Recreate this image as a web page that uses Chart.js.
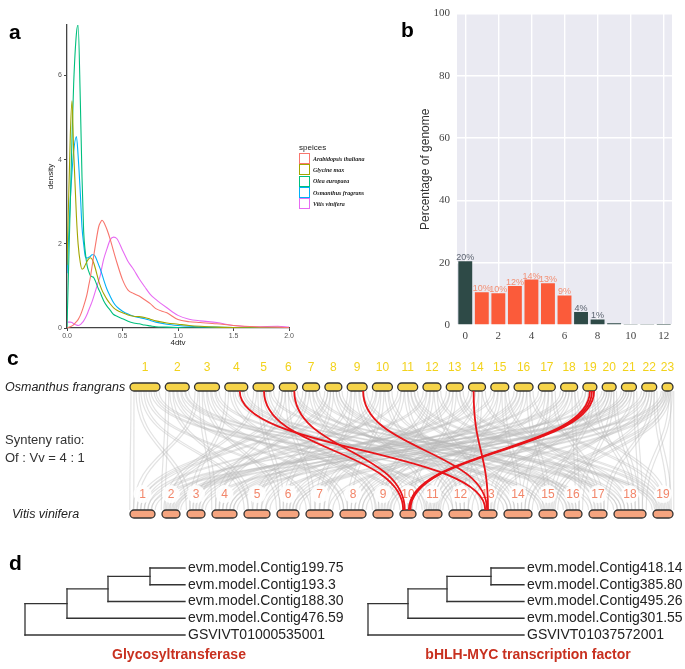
<!DOCTYPE html>
<html>
<head>
<meta charset="utf-8">
<script src="https://cdn.jsdelivr.net/npm/chart.js@4.4.1/dist/chart.umd.min.js"></script>
<style>
body { margin: 0; background: #fff; }
#fig { position: relative; width: 685px; height: 669px; overflow: hidden; font-family: "Liberation Sans", Arial, sans-serif; color: #222; }
#fig canvas, #fig .t { position: absolute; }
.letter { font-weight: bold; font-size: 21px; color: #000; line-height: 1; }
.sp { font-style: italic; font-size: 12.5px; line-height: 1; }
.plain { font-size: 13px; line-height: 1; color: #333; }
#legA .lt { font-size: 8px; height: 10px; line-height: 10px; }
#legA .row { height: 11.3px; display: flex; align-items: center; }
#legA .box { width: 9px; height: 9px; border: 1px solid; background: #fff; margin-right: 3px; }
#legA .lab { font-family: "Liberation Serif", serif; font-style: italic; font-weight: bold; font-size: 6px; }
</style>
</head>
<body>
<div id="fig">
  <canvas id="pa" width="340" height="350" style="left:0;top:0"></canvas>
  <canvas id="pb" width="345" height="345" style="left:340px;top:0"></canvas>
  <canvas id="pc" width="685" height="190" style="left:0;top:345px"></canvas>
  <canvas id="pd1" width="360" height="124" style="left:0;top:545px"></canvas>
  <canvas id="pd2" width="345" height="124" style="left:340px;top:545px"></canvas>

  <div class="t letter" style="left:9px;top:21px">a</div>
  <div class="t letter" style="left:401px;top:19px">b</div>
  <div class="t letter" style="left:7px;top:347px">c</div>
  <div class="t letter" style="left:9px;top:552px">d</div>
  <div id="legA" class="t" style="left:299px;top:143px"></div>

  <div class="t sp" style="left:5px;top:381px">Osmanthus frangrans</div>
  <div class="t plain" style="left:5px;top:433px">Synteny ratio:</div>
  <div class="t plain" style="left:5px;top:451px">Of : Vv = 4 : 1</div>
  <div class="t sp" style="left:12px;top:508px">Vitis vinifera</div>
</div>
<script>
Chart.defaults.font.family = '"Liberation Sans", Arial, sans-serif';
Chart.defaults.animation = false;

// ---------- a: 4dtv density ----------
const species = ['Arabidopsis thaliana', 'Glycine max', 'Olea europaea', 'Osmanthus fragrans', 'Vitis vinifera'];
const speciesColors = ['#F8766D', '#A3A500', '#00BF7D', '#00B0F6', '#E76BF3'];
const dtv = [0, 0.03, 0.045, 0.06, 0.085, 0.1, 0.12, 0.135, 0.15, 0.165, 0.18, 0.195, 0.21, 0.225, 0.24, 0.255,
  0.285, 0.3, 0.315, 0.33, 0.36, 0.39, 0.42, 0.45, 0.5, 0.55, 0.6, 0.65, 0.7, 0.75, 0.8, 0.9, 1.0, 1.1, 1.2,
  1.35, 1.5, 1.7, 1.9, 2.0];
const densArabidopsis = [0, 0.03, 0.05, 0.08, 0.15, 0.2, 0.3, 0.4, 0.52, 0.65, 0.8, 1.0, 1.2, 1.45, 1.7, 1.95,
  2.4, 2.5, 2.56, 2.52, 2.34, 2.1, 1.82, 1.55, 1.15, 0.9, 0.82, 0.76, 0.67, 0.58, 0.46, 0.36, 0.2, 0.15, 0.13,
  0.1, 0.06, 0.03, 0.02, 0.01];
const densGlycine = [1.5, 4.6, 5.4, 4.2, 2.65, 2.0, 1.55, 1.4, 1.42, 1.5, 1.58, 1.64, 1.67, 1.64, 1.55, 1.42,
  1.12, 1.0, 0.9, 0.82, 0.68, 0.57, 0.48, 0.42, 0.36, 0.31, 0.28, 0.27, 0.25, 0.21, 0.17, 0.12, 0.09, 0.06, 0.04,
  0.02, 0.01, 0.005, 0, 0];
const densOlea = [0, 3.0, 4.5, 5.8, 7.0, 7.2, 5.4, 3.6, 2.3, 1.8, 1.5, 1.35, 1.25, 1.22, 1.2, 1.12,
  0.92, 0.84, 0.74, 0.65, 0.52, 0.42, 0.32, 0.28, 0.22, 0.16, 0.12, 0.1, 0.07, 0.05, 0.03, 0.02, 0.01, 0, 0,
  0, 0, 0, 0, 0];
const densOsmanthus = [1.3, 3.05, 3.7, 4.2, 4.55, 4.1, 3.2, 2.4, 2.0, 1.7, 1.66, 1.68, 1.7, 1.74, 1.74, 1.7,
  1.5, 1.4, 1.28, 1.15, 0.92, 0.75, 0.6, 0.5, 0.4, 0.33, 0.28, 0.25, 0.22, 0.18, 0.14, 0.09, 0.06, 0.04, 0.03,
  0.02, 0.01, 0.005, 0, 0];
const densVitis = [0.14, 0.14, 0.13, 0.1, 0.07, 0.06, 0.08, 0.12, 0.17, 0.24, 0.32, 0.42, 0.52, 0.62, 0.74, 0.87,
  1.12, 1.25, 1.45, 1.63, 1.88, 2.1, 2.16, 2.12, 1.85, 1.58, 1.39, 1.17, 0.98, 0.8, 0.68, 0.48, 0.3, 0.21, 0.17,
  0.13, 0.06, 0.03, 0.04, 0.02];
const densTicksY = [0, 2, 4, 6];
const densAll = [densArabidopsis, densGlycine, densOlea, densOsmanthus, densVitis];

new Chart(document.getElementById('pa'), {
  type: 'line',
  data: {
    datasets: species.map((s, i) => ({
      label: s,
      data: dtv.map((x, j) => ({ x: x, y: densAll[i][j] })),
      borderColor: speciesColors[i],
      borderWidth: 1.1,
      pointRadius: 0,
      fill: false,
      cubicInterpolationMode: 'monotone'
    }))
  },
  options: {
    responsive: false,
    layout: { padding: { left: 44, top: 25, right: 51, bottom: 2 } },
    plugins: { legend: { display: false }, tooltip: { enabled: false } },
    scales: {
      x: {
        type: 'linear', min: 0, max: 2,
        ticks: { stepSize: 0.5, callback: v => v.toFixed(1), font: { size: 7 }, color: '#555', padding: 1, maxRotation: 0 },
        grid: { drawOnChartArea: false, tickLength: 3, color: '#444' },
        border: { color: '#444', width: 1.3 },
        title: { display: true, text: '4dtv', font: { size: 8 }, color: '#222', padding: 0 },
        afterFit: s => { s.height = 20; }
      },
      y: {
        type: 'linear', min: 0, max: 7.2,
        afterBuildTicks: s => { s.ticks = densTicksY.map(v => ({ value: v })); },
        ticks: { font: { size: 7 }, color: '#555', padding: 2 },
        grid: { drawOnChartArea: false, tickLength: 3, color: '#444' },
        border: { color: '#444', width: 1.3 },
        title: { display: true, text: 'density', font: { size: 8 }, color: '#222', padding: 2 },
        afterFit: s => { s.width = 23; }
      }
    }
  }
});

// legend for a
const legA = document.getElementById('legA');
legA.innerHTML = '<div class="lt">speices</div>' + species.map((s, i) =>
  '<div class="row"><span class="box" style="border-color:' + speciesColors[i] + '"></span><span class="lab">' + s + '</span></div>'
).join('');

// ---------- b: percentage of genome ----------
const copyNumber = [0, 1, 2, 3, 4, 5, 6, 7, 8, 9, 10, 11, 12];
const genomePct = [20.5, 10.5, 10.2, 12.5, 14.6, 13.4, 9.5, 4.2, 1.8, 0.6, 0.3, 0.15, 0.08];
const pctLabels = ['20%', '10%', '10%', '12%', '14%', '13%', '9%', '4%', '1%', '', '', '', ''];
const highlighted = [0, 1, 1, 1, 1, 1, 1, 0, 0, 0, 0, 0, 0];
const pctTicksX = [0, 2, 4, 6, 8, 10, 12];
const pctTicksY = [0, 20, 40, 60, 80, 100];

const darkBar = '#2e4a47', hotBar = '#fb5b3a';
const panelBg = {
  id: 'panelBg',
  beforeDraw(chart) {
    const a = chart.chartArea, ctx = chart.ctx;
    ctx.save();
    ctx.fillStyle = '#eaeaf2';
    ctx.fillRect(a.left, a.top, a.right - a.left, a.bottom - a.top);
    ctx.restore();
  }
};
const barText = {
  id: 'barText',
  afterDatasetsDraw(chart) {
    const ctx = chart.ctx;
    ctx.save();
    ctx.font = '9px "Liberation Sans", Arial, sans-serif';
    ctx.textAlign = 'center';
    ctx.textBaseline = 'bottom';
    chart.getDatasetMeta(0).data.forEach((bar, i) => {
      ctx.fillStyle = highlighted[i] ? '#f28f74' : '#5c6470';
      ctx.fillText(pctLabels[i], bar.x, bar.y + 1);
    });
    ctx.restore();
  }
};

new Chart(document.getElementById('pb'), {
  type: 'bar',
  data: {
    datasets: [{
      data: copyNumber.map((c, i) => ({ x: c, y: genomePct[i] })),
      backgroundColor: highlighted.map(h => h ? hotBar : darkBar),
      barPercentage: 0.84,
      categoryPercentage: 1
    }]
  },
  options: {
    responsive: false,
    layout: { padding: { left: 74, top: 11, right: 13, bottom: 0 } },
    plugins: { legend: { display: false }, tooltip: { enabled: false } },
    scales: {
      x: {
        type: 'linear', min: -0.5, max: 12.5, offset: false,
        afterBuildTicks: s => { s.ticks = pctTicksX.map(v => ({ value: v })); },
        ticks: { font: { family: '"Liberation Serif", serif', size: 11 }, color: '#444', padding: 5, maxRotation: 0 },
        grid: { color: '#ffffff', lineWidth: 1.4, drawTicks: false, offset: false },
        border: { display: false },
        afterFit: s => { s.height = 20; }
      },
      y: {
        type: 'linear', min: 0, max: 100,
        afterBuildTicks: s => { s.ticks = pctTicksY.map(v => ({ value: v })); },
        ticks: { font: { family: '"Liberation Serif", serif', size: 11 }, color: '#444', padding: 7 },
        grid: { color: '#ffffff', lineWidth: 1.4, drawTicks: false },
        border: { display: false },
        title: { display: true, text: 'Percentage of genome', font: { size: 12 }, color: '#333', padding: 4 },
        afterFit: s => { s.width = 43; }
      }
    }
  },
  plugins: [panelBg, barText]
});

// ---------- c: synteny Osmanthus vs Vitis ----------
const osmChrLen = [30, 24, 25, 23, 21, 18, 17, 17, 20, 20, 20, 18, 17, 17, 18, 19, 17, 17, 14, 14, 15, 15, 11];
const vitChrLen = [25, 18, 18, 25, 26, 22, 27, 26, 20, 16, 19, 23, 18, 28, 18, 18, 18, 32, 20];
// [Osmanthus chr, Vitis chr]
const grayLinks = [
  [1, 1], [3, 1], [8, 1], [15, 1], [20, 1],
  [2, 2], [6, 2], [12, 2], [17, 2],
  [1, 3], [4, 3], [10, 3], [21, 3],
  [3, 4], [7, 4], [13, 4], [18, 4], [22, 4],
  [2, 5], [9, 5], [14, 5], [19, 5],
  [5, 6], [8, 6], [16, 6], [23, 6],
  [1, 7], [6, 7], [11, 7], [20, 7],
  [3, 8], [10, 8], [15, 8], [21, 8],
  [4, 9], [12, 9], [17, 9], [22, 9],
  [2, 10], [7, 10], [13, 10],
  [5, 11], [9, 11], [16, 11], [18, 11], [23, 11],
  [8, 12], [11, 12], [14, 12], [20, 12],
  [6, 13], [12, 13], [19, 13], [22, 13],
  [1, 14], [7, 14], [10, 14], [15, 14], [21, 14],
  [3, 15], [11, 15], [16, 15], [23, 15],
  [4, 16], [9, 16], [18, 16], [20, 16],
  [2, 17], [13, 17], [17, 17], [22, 17],
  [5, 18], [8, 18], [14, 18], [19, 18], [21, 18], [23, 18],
  [6, 19], [11, 19], [16, 19], [18, 19], [23, 19],
  [1, 5], [2, 8], [3, 11], [4, 14], [5, 2], [6, 16], [7, 19], [8, 3], [9, 7], [10, 12],
  [11, 1], [12, 18], [13, 6], [14, 9], [15, 17], [16, 4], [17, 13], [18, 8], [19, 15],
  [20, 11], [21, 2], [22, 19], [23, 14],
  [1, 12], [2, 15], [3, 6], [4, 18], [5, 9], [6, 4], [7, 1], [8, 16], [9, 13], [10, 5],
  [11, 17], [12, 7], [13, 19], [14, 3], [15, 11], [16, 8], [17, 14], [18, 2], [19, 10],
  [20, 18], [21, 6], [22, 15], [23, 9]
];
// [Osmanthus chr, position on chr, Vitis chr, position on chr]
const redLinks = [
  [4, 0.65, 13, 0.35], [5, 0.52, 10, 0.2], [6, 0.83, 10, 0.3], [9, 0.8, 13, 0.45],
  [14, 0.3, 13, 0.5], [19, 0.5, 10, 0.55], [19, 0.65, 10, 0.6], [19, 0.8, 10, 0.65]
];

const OSM_GAP = 5.3, VIT_GAP = 7;
const starts = (lens, gap) => lens.map((l, i) => lens.slice(0, i).reduce((a, b) => a + b, 0) + i * gap);
const osmStart = starts(osmChrLen, OSM_GAP), vitStart = starts(vitChrLen, VIT_GAP);
const osmTotal = osmStart[osmStart.length - 1] + osmChrLen[osmChrLen.length - 1];
const vitTotal = vitStart[vitStart.length - 1] + vitChrLen[vitChrLen.length - 1];
// track placement inside the 685px panel: from 130px to 673px
const trackRange = (total) => { const u = total / 543; return { min: -130 * u, max: total + 12 * u }; };

const synteny = {
  id: 'synteny',
  afterDraw(chart) {
    const ctx = chart.ctx, xo = chart.scales.xo, xv = chart.scales.xv, y = chart.scales.y;
    const yTop = y.getPixelForValue(1), yBot = y.getPixelForValue(0);
    const yTopLab = y.getPixelForValue(1.155), yBotLab = y.getPixelForValue(0.157);
    const h = 8;
    const ox = (c, f) => xo.getPixelForValue(osmStart[c - 1] + f * osmChrLen[c - 1]);
    const vx = (c, f) => xv.getPixelForValue(vitStart[c - 1] + f * vitChrLen[c - 1]);
    const curve = (x1, x2) => {
      const ym = (yTop + yBot) / 2;
      ctx.beginPath();
      ctx.moveTo(x1, yTop + h / 2);
      ctx.bezierCurveTo(x1, ym, x2, ym, x2, yBot - h / 2);
      ctx.stroke();
    };
    const pill = (x1, x2, yc, fill) => {
      const r = h / 2;
      ctx.beginPath();
      ctx.moveTo(x1 + r, yc - r);
      ctx.lineTo(x2 - r, yc - r);
      ctx.arc(x2 - r, yc, r, -Math.PI / 2, Math.PI / 2);
      ctx.lineTo(x1 + r, yc + r);
      ctx.arc(x1 + r, yc, r, Math.PI / 2, Math.PI * 1.5);
      ctx.closePath();
      ctx.fillStyle = fill;
      ctx.fill();
      ctx.lineWidth = 1.3;
      ctx.strokeStyle = '#333';
      ctx.stroke();
    };

    // gray links spread along each chromosome
    const oSlots = osmChrLen.map(() => []), vSlots = vitChrLen.map(() => []);
    grayLinks.forEach((l, i) => { oSlots[l[0] - 1].push(i); vSlots[l[1] - 1].push(i); });
    oSlots.forEach(s => s.sort((a, b) => grayLinks[a][1] - grayLinks[b][1]));
    vSlots.forEach(s => s.sort((a, b) => grayLinks[a][0] - grayLinks[b][0]));
    const fo = [], fv = [];
    oSlots.forEach(s => s.forEach((li, k) => { fo[li] = (k + 0.5) / s.length; }));
    vSlots.forEach(s => s.forEach((li, k) => { fv[li] = (k + 0.5) / s.length; }));

    ctx.save();
    ctx.strokeStyle = 'rgba(185,185,185,0.4)';
    ctx.lineWidth = 1.2;
    grayLinks.forEach((l, i) => {
      const x1 = ox(l[0], fo[i]), x2 = vx(l[1], fv[i]);
      curve(x1 - 1.5, x2 - 2);
      curve(x1 + 1.5, x2 + 2);
    });

    // bottom labels in white discs
    ctx.font = '12px "Liberation Sans", Arial, sans-serif';
    ctx.textAlign = 'center';
    ctx.textBaseline = 'middle';
    vitChrLen.forEach((l, i) => {
      const cx = vx(i + 1, 0.5);
      ctx.beginPath();
      ctx.arc(cx, yBotLab, 9, 0, Math.PI * 2);
      ctx.fillStyle = 'rgba(255,255,255,0.92)';
      ctx.fill();
      ctx.fillStyle = '#f2866a';
      ctx.fillText(String(i + 1), cx, yBotLab + 0.5);
    });

    // chromosomes
    osmChrLen.forEach((l, i) => pill(ox(i + 1, 0), ox(i + 1, 1), yTop, '#f6d44a'));
    vitChrLen.forEach((l, i) => pill(vx(i + 1, 0), vx(i + 1, 1), yBot, '#f5a47f'));

    // top labels
    ctx.fillStyle = '#f2d21c';
    osmChrLen.forEach((l, i) => ctx.fillText(String(i + 1), ox(i + 1, 0.5), yTopLab));

    // highlighted links
    ctx.strokeStyle = '#e8141a';
    ctx.lineWidth = 1.8;
    redLinks.forEach(r => curve(ox(r[0], r[1]), vx(r[2], r[3])));
    ctx.restore();
  }
};

new Chart(document.getElementById('pc'), {
  type: 'scatter',
  data: { datasets: [] },
  options: {
    responsive: false,
    layout: { padding: 0 },
    plugins: { legend: { display: false }, tooltip: { enabled: false } },
    scales: {
      xo: Object.assign({ type: 'linear', axis: 'x', display: false }, trackRange(osmTotal)),
      xv: Object.assign({ type: 'linear', axis: 'x', display: false }, trackRange(vitTotal)),
      y: { type: 'linear', display: false, min: -0.1654, max: 1.3307 }
    }
  },
  plugins: [synteny]
});

// ---------- d: gene trees ----------
const glyLeaves = ['evm.model.Contig199.75', 'evm.model.Contig193.3', 'evm.model.Contig188.30', 'evm.model.Contig476.59', 'GSVIVT01000535001'];
const glyDepth = [0, 0.42, 0.83, 1.25, 1.60];
const bhlhLeaves = ['evm.model.Contig418.14', 'evm.model.Contig385.80', 'evm.model.Contig495.26', 'evm.model.Contig301.55', 'GSVIVT01037572001'];
const bhlhDepth = [0, 0.40, 0.79, 1.23, 1.56];

// ladder tree (((((0,1),2),3),4)): depth[0] root .. depth[3] deepest node, depth[4] tips
function treeSegments(depth) {
  const tip = depth[4], segs = [];
  let childY = 0.5, childX = depth[3];
  segs.push([[depth[3], 0], [depth[3], 1]], [[depth[3], 0], [tip, 0]], [[depth[3], 1], [tip, 1]]);
  for (let lvl = 2; lvl >= 0; lvl--) {
    const leaf = 4 - lvl, x = depth[lvl];
    segs.push([[x, childY], [x, leaf]], [[x, childY], [childX, childY]], [[x, leaf], [tip, leaf]]);
    childY = (childY + leaf) / 2;
    childX = x;
  }
  return segs;
}

function treeChart(id, leaves, depth, title, titleX, xmin, xmax) {
  const tipText = {
    id: 'tipText',
    afterDraw(chart) {
      const ctx = chart.ctx, xs = chart.scales.x, ys = chart.scales.y;
      ctx.save();
      ctx.font = '14px "Liberation Sans", Arial, sans-serif';
      ctx.fillStyle = '#222';
      ctx.textBaseline = 'middle';
      leaves.forEach((t, i) => ctx.fillText(t, xs.getPixelForValue(depth[4]) + 3, ys.getPixelForValue(i)));
      ctx.font = 'bold 14px "Liberation Sans", Arial, sans-serif';
      ctx.fillStyle = '#c8301f';
      ctx.textAlign = 'center';
      ctx.fillText(title, xs.getPixelForValue(titleX), ys.getPixelForValue(5.2));
      ctx.restore();
    }
  };
  new Chart(document.getElementById(id), {
    type: 'line',
    data: {
      datasets: treeSegments(depth).map(s => ({
        data: s.map(p => ({ x: p[0], y: p[1] })),
        borderColor: '#333', borderWidth: 1.3, pointRadius: 0, borderCapStyle: 'square'
      }))
    },
    options: {
      responsive: false,
      layout: { padding: 0 },
      plugins: { legend: { display: false }, tooltip: { enabled: false } },
      scales: {
        x: { type: 'linear', display: false, min: xmin, max: xmax },
        y: { type: 'linear', display: false, reverse: true, min: -1.373, max: 6.03 }
      }
    },
    plugins: [tipText]
  });
}

treeChart('pd1', glyLeaves, glyDepth, 'Glycosyltransferase', 1.54, -0.25, 3.35);
treeChart('pd2', bhlhLeaves, bhlhDepth, 'bHLH-MYC transcription factor', 1.6, -0.28, 3.17);
</script>
</body>
</html>
